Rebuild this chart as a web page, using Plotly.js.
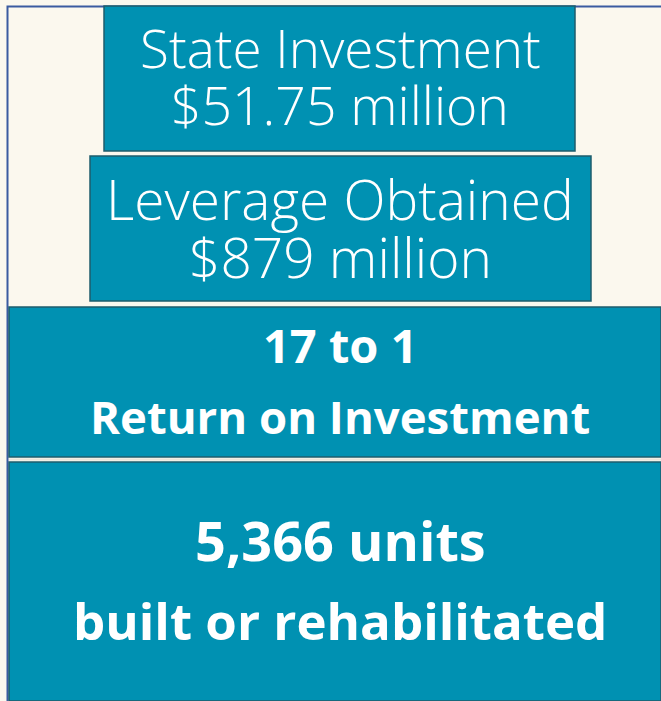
<!DOCTYPE html>
<html>
<head>
<meta charset="utf-8">
<script src="https://cdn.plot.ly/plotly-3.0.1.min.js"></script>
<style>html,body{margin:0;padding:0;background:#FBF8EE;}#chart{width:661px;height:701px;}</style>
</head>
<body>
<div id="chart"></div>
<script>
// Panel content
var panelLabels = ["State Investment", "Leverage Obtained", "17 to 1", "5,366 units"];
var panelSubLabels = ["$51.75 million", "$879 million", "Return on Investment", "built or rehabilitated"];
var panelBold = [false, false, true, true];

// Panel geometry (pixel frame of the infographic)
var boxX0 = [104, 90, 9, 9];
var boxX1 = [575, 591, 661, 661];
var boxY0 = [6, 156, 307, 462];
var boxY1 = [151, 301, 457, 701];
var textX = 340;
var line1Y = [47, 198, 345, 540];
var line2Y = [104, 256, 416, 620];
var line1Size = [53, 55, 47, 54];
var line2Size = [53.5, 55, 45.5, 51];

var teal = "#0091B2";
var edge = "#1E5C6C";
var cream = "#FBF8EE";

var shapes = [];
// outer blue frame
shapes.push({type: "rect", xref: "x", yref: "y", x0: 7.5, x1: 670, y0: 6.5, y1: 710,
  line: {color: "#3B5BA0", width: 2}, fillcolor: cream, layer: "below"});
for (var i = 0; i < panelLabels.length; i++) {
  shapes.push({type: "rect", xref: "x", yref: "y", x0: boxX0[i], x1: boxX1[i], y0: boxY0[i], y1: boxY1[i],
    line: {color: edge, width: 1.5}, fillcolor: teal, layer: "below"});
}
// thin light separator between bottom panels
shapes.push({type: "line", xref: "x", yref: "y", x0: 9, x1: 661, y0: 459.5, y1: 459.5,
  line: {color: "#E8E6DC", width: 2}});

var annotations = [];
for (var j = 0; j < panelLabels.length; j++) {
  var fam = "'Open Sans', Lato, sans-serif";
  var w = panelBold[j] ? 700 : 300;
  annotations.push({x: textX, y: line1Y[j], xref: "x", yref: "y",
    text: panelLabels[j], showarrow: false, xanchor: "center", yanchor: "middle",
    font: {family: fam, size: line1Size[j], color: "#FFFFFF", weight: w}});
  annotations.push({x: textX, y: line2Y[j], xref: "x", yref: "y",
    text: panelSubLabels[j], showarrow: false, xanchor: "center", yanchor: "middle",
    font: {family: fam, size: line2Size[j], color: "#FFFFFF", weight: w}});
}

var layout = {
  width: 661, height: 701,
  margin: {l: 0, r: 0, t: 0, b: 0},
  paper_bgcolor: cream, plot_bgcolor: cream,
  xaxis: {range: [0, 661], visible: false, fixedrange: true},
  yaxis: {range: [701, 0], visible: false, fixedrange: true},
  shapes: shapes,
  annotations: annotations,
  showlegend: false
};
Plotly.newPlot("chart", [], layout, {staticPlot: true, displayModeBar: false});
</script>
</body>
</html>
